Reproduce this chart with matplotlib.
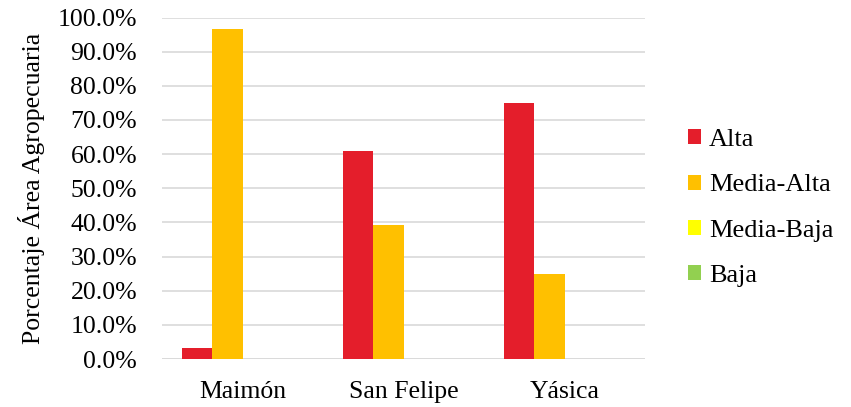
import numpy as np
import matplotlib
matplotlib.use("Agg")
import matplotlib.pyplot as plt
from matplotlib.ticker import FuncFormatter

plt.rcParams['font.family'] = ['Liberation Serif', 'DejaVu Serif']

# data
sitios = ['Maimón', 'San Felipe', 'Yásica']
categorias = ['Alta', 'Media-Alta', 'Media-Baja', 'Baja']
alta = [3.3, 60.8, 75.0]
media_alta = [96.7, 39.2, 25.0]
media_baja = [0.0, 0.0, 0.0]
baja = [0.0, 0.0, 0.0]
colores = ['#E41E2B', '#FFC000', '#FFFF00', '#92D050']

series = [alta, media_alta, media_baja, baja]

fig = plt.figure(figsize=(8.51, 4.07), dpi=100)
ax = fig.add_axes([162/851, 1-359/407, (645-162)/851, (359-17.5)/407])

x = np.arange(len(sitios))
w = 0.1875
for i, (vals, nombre, c) in enumerate(zip(series, categorias, colores)):
    ax.bar(x + (i - 1.5)*w, vals, width=w, color=c, label=nombre, linewidth=0, zorder=3)

ax.set_xlim(-0.5, 2.5)
ax.set_ylim(0, 100)
ax.set_yticks(np.arange(0, 101, 10))
ax.yaxis.set_major_formatter(FuncFormatter(lambda v, p: '%.1f%%' % v))
ax.set_xticks(x)
ax.set_xticklabels(sitios)
ax.grid(axis='y', color='#D9D9D9', linewidth=1.2, zorder=0)
ax.tick_params(axis='both', length=0, labelsize=18.5, colors='black')
ax.tick_params(axis='y', pad=18)
ax.tick_params(axis='x', pad=16)
for s in ax.spines.values():
    s.set_visible(False)
ax.axhline(0, color='#D9D9D9', linewidth=1.2, zorder=1)

ax.set_ylabel('Porcentaje Área Agropecuaria', fontsize=18.5, labelpad=9)

ax.legend(loc='center left', bbox_to_anchor=(664/851, 1-208/407), bbox_transform=fig.transFigure,
          frameon=False, fontsize=19, handlelength=0.5, handleheight=0.5,
          handletextpad=0.3, labelspacing=0.88)

fig.savefig('out.png', dpi=100)
